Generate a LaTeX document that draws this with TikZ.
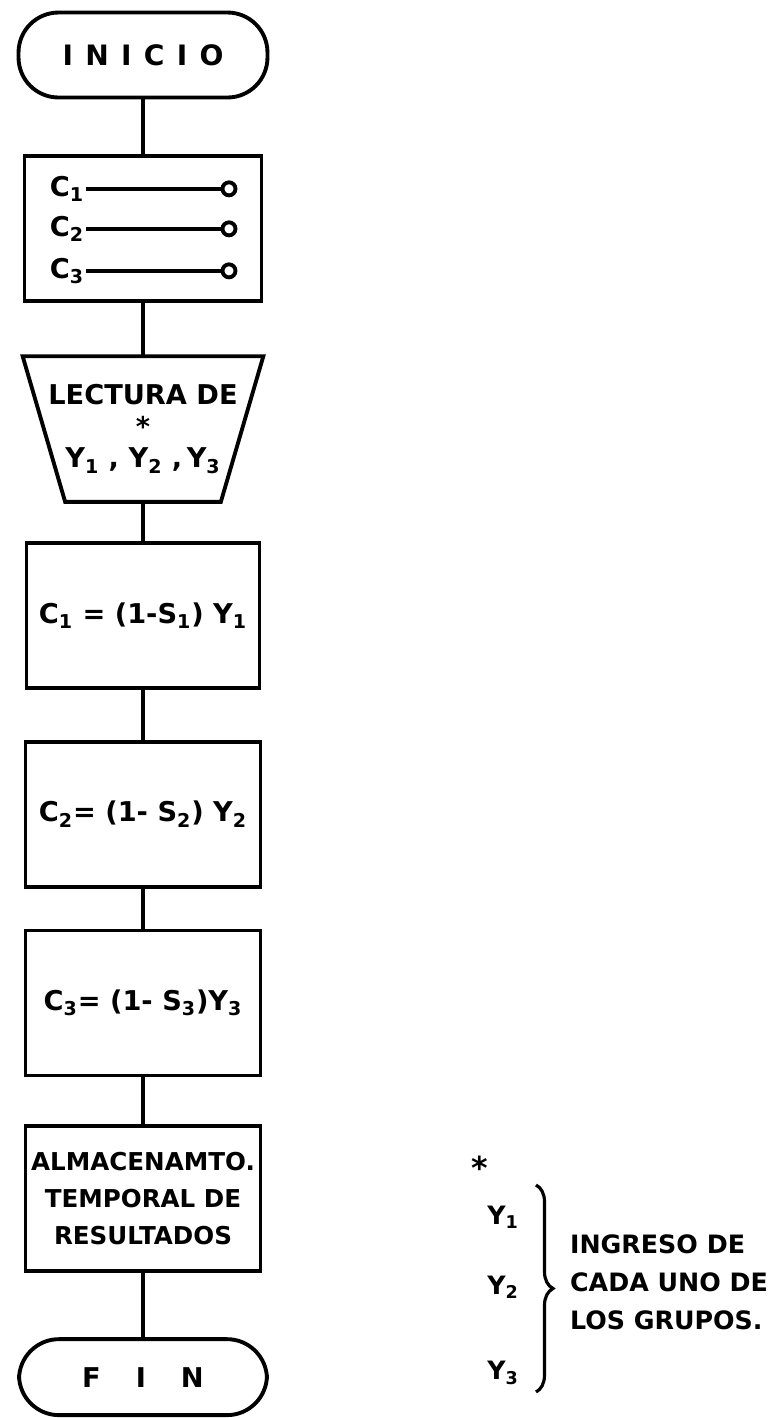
\documentclass[tikz,border=0pt]{standalone}
\usepackage{fontspec}
\setmainfont{DejaVu Sans}
\usetikzlibrary{positioning, decorations.pathreplacing}

\begin{document}
\begin{tikzpicture}[x=0.02cm, y=-0.02cm,
    flow/.style={draw, line width=2.2pt, align=center, inner sep=1pt, font=\bfseries\fontsize{15.5}{21}\selectfont},
    terminal/.style={flow, rounded corners=0.8cm},
    procbox/.style={flow, minimum height=2.9cm},
    readbox/.style={align=center, inner sep=1pt, minimum width=4.8cm, minimum height=2.9cm, font=\bfseries\fontsize{15.5}{18}\selectfont},
    link/.style={line width=2.2pt},
    swlabel/.style={inner sep=1pt, font=\bfseries\fontsize{15.5}{16}\selectfont},
    swend/.style={circle, draw, line width=2.2pt, inner sep=0pt, minimum size=0.26cm},
    note/.style={inner sep=1pt, font=\bfseries\fontsize{14.4}{21.5}\selectfont}]
    \useasboundingbox (0,0) rectangle (776,1418);

    \node[terminal, minimum width=4.98cm, minimum height=1.7cm, font=\bfseries\fontsize{16}{18}\selectfont] (inicio) at (143,55) {I\hspace{7pt}N\hspace{7pt}I\hspace{7pt}C\hspace{7pt}I\hspace{7pt}O};
    \node[procbox, minimum width=4.74cm, below=1.1cm of inicio] (asig) {};
    \node[readbox, below=1.06cm of asig] (lect) {LECTURA DE\\*\\Y\textsubscript{1}\ , Y\textsubscript{2}\ ,\,Y\textsubscript{3}};
    \node[procbox, minimum width=4.66cm, below=0.78cm of lect] (c1) {C\textsubscript{1} = (1-S\textsubscript{1}) Y\textsubscript{1}};
    \node[procbox, minimum width=4.7cm, below=1.0cm of c1] (c2) {C\textsubscript{2}= (1- S\textsubscript{2}) Y\textsubscript{2}};
    \node[procbox, minimum width=4.7cm, below=0.8cm of c2] (c3) {C\textsubscript{3}= (1- S\textsubscript{3})Y\textsubscript{3}};
    \node[procbox, minimum width=4.7cm, below=0.94cm of c3, font=\bfseries\fontsize{14}{21}\selectfont] (alm) {ALMACENAMTO.\\TEMPORAL DE\\RESULTADOS};
    \node[terminal, minimum width=4.96cm, minimum height=1.52cm, below=1.28cm of alm] (fin) {F\hspace{0.7cm}I\hspace{0.7cm}N};

    % initial values inside the first box
    \node[swlabel] (ca) at ([shift={(-76,-40)}]asig.center) {C\textsubscript{1}};
    \node[swlabel] (cb) at ([shift={(-76,0)}]asig.center) {C\textsubscript{2}};
    \node[swlabel] (cc) at ([shift={(-76,42)}]asig.center) {C\textsubscript{3}};
    \node[swend] (oa) at ([shift={(86,-40)}]asig.center) {};
    \node[swend] (ob) at ([shift={(86,0)}]asig.center) {};
    \node[swend] (oc) at ([shift={(86,42)}]asig.center) {};
    \draw[link] (ca) -- (oa);
    \draw[link] (cb) -- (ob);
    \draw[link] (cc) -- (oc);

    % input trapezium
    \draw[link] (lect.north west) -- (lect.north east) -- ([xshift=-0.85cm]lect.south east) -- ([xshift=0.85cm]lect.south west) -- cycle;

    \foreach \a/\b in {inicio/asig, asig/lect, lect/c1, c1/c2, c2/c3, c3/alm, alm/fin}
        \draw[link] (\a) -- (\b);

    % note on the right
    \node[note, font=\bfseries\fontsize{18}{18}\selectfont] (star) at (480,1168) {*};
    \node[note] (y1) at (503,1217) {Y\textsubscript{1}};
    \node[note] (y2) at (503,1287) {Y\textsubscript{2}};
    \node[note] (y3) at (503,1373) {Y\textsubscript{3}};
    \coordinate (bt) at (536,1185);
    \coordinate (bb) at (536,1392);
    \draw[line width=1.8pt, decorate, decoration={brace, amplitude=0.34cm}] (bt) -- (bb);
    \node[note, align=left, anchor=west] (ingreso) at (568,1282) {INGRESO DE\\CADA UNO DE\\LOS GRUPOS.};
\end{tikzpicture}
\end{document}
